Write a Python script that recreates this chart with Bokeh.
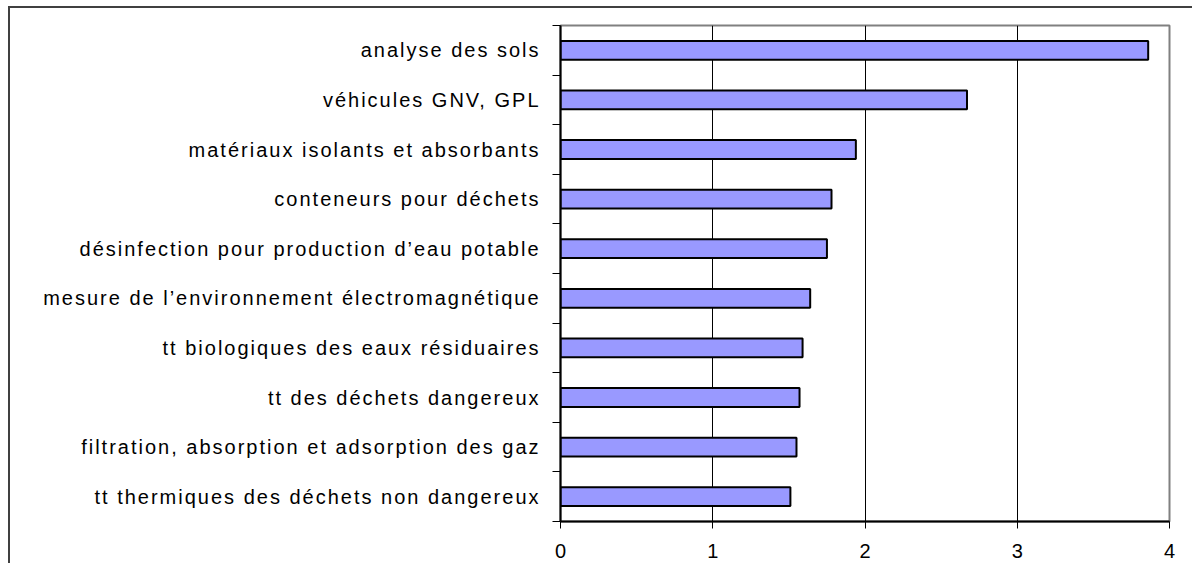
from bokeh.plotting import figure
from bokeh.layouts import row
from bokeh.models import Range1d, FixedTicker
from bokeh.core.properties import value
from bokeh.embed import file_html
from bokeh.resources import INLINE

categories = [
    "analyse des sols",
    "véhicules GNV, GPL",
    "matériaux isolants et absorbants",
    "conteneurs pour déchets",
    "désinfection pour production d’eau potable",
    "mesure de l’environnement électromagnétique",
    "tt biologiques des eaux résiduaires",
    "tt des déchets dangereux",
    "filtration, absorption et adsorption des gaz",
    "tt thermiques des déchets non dangereux",
]
values = [3.86, 2.67, 1.94, 1.78, 1.75, 1.64, 1.59, 1.57, 1.55, 1.51]
x_ticks = [0, 1, 2, 3, 4]

n = len(categories)
ys = list(range(n))
TRACK = 2   # letter spacing in px (CSS)
GAP = 10    # gap between label ink and the label panel's right edge

y_range = Range1d(n - 0.5, -0.5)

# ---- label panel (category names) ----
lab = figure(
    frame_width=538, frame_height=496,
    min_border_left=0, min_border_right=0, min_border_top=17, min_border_bottom=44,
    x_range=Range1d(-1, 0), y_range=y_range,
    x_axis_location=None, y_axis_location=None,
    output_backend="svg", toolbar_location=None,
    background_fill_color="white", border_fill_color="white",
)
lab.outline_line_color = None
lab.xgrid.grid_line_color = None
lab.ygrid.grid_line_color = None
lab.text(x=[0] * n, y=ys, text=categories,
         x_offset=[-(GAP + TRACK * (len(c) - 1)) for c in categories],
         text_align="right", text_baseline="middle",
         text_font=value("Liberation Sans"), text_font_size=value("20px"),
         text_color="black")

# ---- main chart ----
p = figure(
    frame_width=609, frame_height=496,
    min_border_left=12, min_border_right=25, min_border_top=17, min_border_bottom=44,
    x_range=Range1d(0, 4), y_range=y_range,
    output_backend="svg", toolbar_location=None,
    background_fill_color="white", border_fill_color="white",
)
p.outline_line_color = "#808080"
p.outline_line_width = 2

p.hbar(y=ys, left=0, right=values, height=0.38,
       fill_color="#9999FF", line_color="black", line_width=2)

p.xaxis.ticker = FixedTicker(ticks=x_ticks)
p.xaxis.axis_line_color = "black"
p.xaxis.axis_line_width = 2
p.xaxis.major_tick_out = 7
p.xaxis.major_tick_in = 0
p.xaxis.major_tick_line_color = "black"
p.xaxis.minor_tick_line_color = None
p.xaxis.major_label_text_font = "Liberation Sans"
p.xaxis.major_label_text_font_size = "20px"
p.xaxis.major_label_text_color = "black"
p.xaxis.major_label_standoff = 15

p.yaxis.ticker = FixedTicker(ticks=[], minor_ticks=[y - 0.5 for y in ys] + [n - 0.5])
p.yaxis.axis_line_color = "black"
p.yaxis.axis_line_width = 2
p.yaxis.major_tick_line_color = None
p.yaxis.major_tick_out = 0
p.yaxis.major_label_standoff = 0
p.yaxis.minor_tick_line_color = "black"
p.yaxis.minor_tick_out = 8
p.yaxis.minor_tick_in = 0

p.xgrid.ticker = FixedTicker(ticks=x_ticks)
p.xgrid.grid_line_color = "black"
p.xgrid.grid_line_width = 1
p.ygrid.grid_line_color = None

layout = row(lab, p, spacing=0,
             styles={"box-shadow": "-2px -2px 0 0 #404040", "letter-spacing": "%dpx" % TRACK,
                     "margin-left": "10px", "margin-top": "8px"})

open("out.html", "w").write(file_html(layout, INLINE))
